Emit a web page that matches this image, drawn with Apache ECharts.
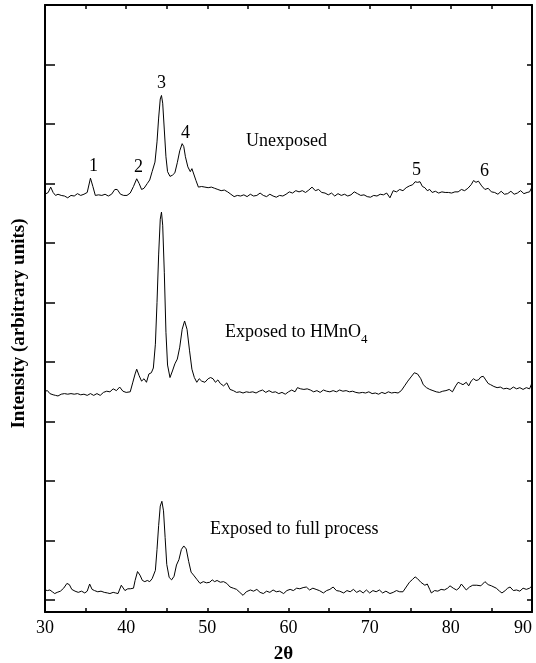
<!DOCTYPE html>
<html>
<head>
<meta charset="utf-8">
<script src="https://cdn.jsdelivr.net/npm/echarts@6/dist/echarts.min.js"></script>
<style>html,body{margin:0;padding:0;background:#fff}#c{width:536px;height:663px}</style>
</head>
<body>
<div id="c"></div>
<script>
// 2-theta positions and intensities (arbitrary units, offset per curve)
var unexposedX = [30.0,30.4,30.7,31.0,31.3,31.6,32.0,32.4,32.8,33.2,33.6,34.0,34.4,34.8,35.2,35.6,35.9,36.2,36.6,37.0,37.4,37.8,38.2,38.6,38.9,39.3,39.7,40.1,40.5,40.9,41.3,41.6,41.9,42.2,42.6,42.9,43.2,43.55,43.8,44.0,44.2,44.35,44.5,44.7,44.9,45.1,45.4,45.7,46.0,46.3,46.6,46.9,47.1,47.3,47.6,47.9,48.1,48.3,48.6,48.9,49.3,49.7,50.1,50.5,50.9,51.3,51.7,52.1,52.5,52.9,53.3,53.7,54.1,54.5,54.9,55.3,55.7,56.1,56.5,56.9,57.3,57.7,58.1,58.5,58.9,59.3,59.7,60.1,60.5,60.9,61.3,61.7,62.1,62.5,62.9,63.3,63.7,64.1,64.5,64.9,65.3,65.7,66.1,66.5,66.9,67.3,67.7,68.1,68.5,68.9,69.3,69.7,70.1,70.5,70.9,71.3,71.7,72.1,72.5,72.9,73.3,73.7,74.1,74.5,74.9,75.3,75.6,75.9,76.2,76.5,76.8,77.1,77.4,77.7,78.1,78.5,78.9,79.3,79.7,80.1,80.5,80.9,81.3,81.7,82.1,82.5,82.8,83.1,83.4,83.8,84.2,84.6,85.0,85.4,85.8,86.2,86.6,87.0,87.4,87.8,88.2,88.6,89.0,89.4,89.7,90.0];
var unexposedY = [6.82,6.85,6.94,6.85,6.80,6.82,6.80,6.79,6.76,6.80,6.79,6.83,6.80,6.82,6.85,7.09,6.95,6.80,6.81,6.80,6.82,6.79,6.82,6.90,6.90,6.82,6.80,6.80,6.84,6.95,7.08,7.00,6.90,6.92,7.00,7.06,7.20,7.36,7.70,8.10,8.42,8.48,8.35,7.90,7.45,7.20,7.12,7.14,7.18,7.35,7.55,7.67,7.62,7.45,7.28,7.20,7.25,7.22,7.05,6.94,6.95,6.94,6.93,6.94,6.92,6.90,6.88,6.89,6.86,6.82,6.78,6.80,6.79,6.81,6.78,6.82,6.79,6.80,6.84,6.80,6.78,6.82,6.79,6.77,6.80,6.79,6.82,6.86,6.84,6.88,6.86,6.88,6.85,6.89,6.94,6.88,6.90,6.85,6.84,6.81,6.84,6.79,6.83,6.80,6.82,6.79,6.81,6.86,6.83,6.80,6.81,6.78,6.77,6.80,6.79,6.82,6.81,6.84,6.76,6.88,6.86,6.90,6.88,6.93,6.96,6.98,7.03,7.02,7.03,6.95,6.93,6.88,6.90,6.85,6.87,6.84,6.86,6.85,6.85,6.84,6.86,6.86,6.90,6.88,6.92,6.98,7.05,7.02,7.04,6.96,6.90,6.92,6.86,6.85,6.82,6.87,6.82,6.83,6.87,6.82,6.84,6.88,6.83,6.85,6.86,6.94];

var hmno4X = [30.0,30.3,30.6,31.0,31.3,31.6,32.0,32.4,32.8,33.2,33.6,34.0,34.4,34.8,35.2,35.6,36.0,36.4,36.8,37.2,37.6,38.0,38.4,38.8,39.2,39.6,40.0,40.5,40.8,41.1,41.3,41.6,41.9,42.2,42.5,42.8,43.1,43.35,43.6,43.8,44.0,44.2,44.35,44.5,44.7,44.9,45.1,45.4,45.7,46.0,46.3,46.6,46.9,47.2,47.5,47.8,48.1,48.4,48.7,49.0,49.3,49.7,50.1,50.4,50.7,51.0,51.3,51.6,52.0,52.4,52.8,53.2,53.6,54.0,54.4,54.8,55.2,55.6,56.0,56.4,56.8,57.2,57.6,58.0,58.4,58.8,59.2,59.6,60.0,60.4,60.8,61.1,61.5,61.9,62.3,62.7,63.1,63.5,63.9,64.3,64.7,65.1,65.5,65.9,66.3,66.7,67.1,67.5,67.9,68.3,68.7,69.1,69.5,69.9,70.3,70.7,71.1,71.5,71.9,72.3,72.7,73.1,73.5,73.9,74.3,74.7,75.1,75.5,75.9,76.3,76.6,77.0,77.4,77.8,78.2,78.6,79.0,79.4,79.8,80.2,80.6,80.9,81.2,81.5,81.9,82.2,82.5,82.8,83.1,83.4,83.7,84.0,84.3,84.6,84.9,85.3,85.7,86.1,86.5,86.9,87.3,87.7,88.1,88.5,88.9,89.3,89.7,90.0];
var hmno4Y = [3.51,3.52,3.47,3.45,3.44,3.43,3.46,3.47,3.46,3.47,3.46,3.47,3.45,3.46,3.44,3.47,3.44,3.47,3.44,3.49,3.51,3.50,3.55,3.52,3.58,3.51,3.49,3.50,3.65,3.80,3.88,3.77,3.68,3.72,3.66,3.80,3.82,3.90,4.30,5.00,5.80,6.40,6.52,6.30,5.50,4.50,3.95,3.74,3.85,3.97,4.05,4.25,4.55,4.69,4.55,4.20,3.88,3.74,3.66,3.72,3.68,3.66,3.72,3.74,3.72,3.66,3.70,3.64,3.60,3.65,3.54,3.52,3.49,3.50,3.48,3.50,3.49,3.50,3.48,3.51,3.53,3.49,3.52,3.49,3.50,3.47,3.49,3.46,3.50,3.53,3.50,3.57,3.55,3.54,3.55,3.53,3.50,3.52,3.49,3.53,3.51,3.50,3.52,3.50,3.53,3.51,3.52,3.50,3.51,3.49,3.48,3.49,3.48,3.50,3.47,3.48,3.46,3.49,3.47,3.50,3.48,3.49,3.48,3.52,3.60,3.68,3.75,3.82,3.80,3.72,3.62,3.57,3.54,3.52,3.50,3.49,3.51,3.52,3.54,3.50,3.60,3.66,3.64,3.62,3.66,3.60,3.68,3.72,3.69,3.70,3.75,3.76,3.70,3.64,3.62,3.59,3.57,3.58,3.55,3.56,3.54,3.58,3.55,3.57,3.54,3.57,3.55,3.65];

var fullX = [30.0,30.3,30.6,30.9,31.2,31.5,31.9,32.3,32.7,33.0,33.3,33.7,34.1,34.5,34.9,35.2,35.5,35.8,36.1,36.5,36.9,37.3,37.7,38.0,38.4,38.7,39.0,39.4,39.85,40.2,40.5,40.9,41.1,41.4,41.7,42.0,42.3,42.6,42.9,43.2,43.35,43.6,43.8,44.0,44.2,44.4,44.6,44.8,45.0,45.3,45.6,45.9,46.2,46.5,46.8,47.1,47.4,47.7,48.0,48.3,48.7,49.1,49.5,49.9,50.3,50.6,50.9,51.2,51.6,52.0,52.4,52.8,53.2,53.6,54.0,54.4,54.8,55.3,55.7,56.1,56.5,56.9,57.3,57.7,58.1,58.5,58.9,59.4,59.8,60.2,60.6,61.0,61.4,61.8,62.2,62.6,63.0,63.4,63.8,64.3,64.7,65.1,65.5,65.9,66.3,66.8,67.2,67.6,68.0,68.4,68.8,69.2,69.6,70.0,70.4,70.8,71.2,71.6,72.0,72.5,72.9,73.3,73.7,74.1,74.5,74.9,75.3,75.6,75.9,76.3,76.8,77.1,77.4,77.6,78.0,78.4,78.8,79.2,79.6,79.9,80.3,80.7,81.0,81.3,81.6,81.9,82.3,82.7,83.2,83.7,84.2,84.6,85.0,85.2,85.6,86.0,86.3,86.7,87.0,87.3,87.7,88.1,88.5,88.9,89.3,89.7,90.0];
var fullY = [0.17,0.16,0.17,0.14,0.11,0.13,0.15,0.20,0.28,0.26,0.18,0.15,0.13,0.15,0.12,0.15,0.27,0.18,0.16,0.14,0.15,0.13,0.12,0.11,0.13,0.12,0.11,0.25,0.16,0.19,0.19,0.20,0.33,0.48,0.42,0.33,0.31,0.33,0.31,0.36,0.35,0.50,0.85,1.25,1.58,1.66,1.50,1.05,0.60,0.38,0.34,0.40,0.59,0.68,0.85,0.91,0.86,0.65,0.47,0.42,0.35,0.28,0.31,0.29,0.30,0.34,0.31,0.33,0.30,0.31,0.28,0.22,0.20,0.18,0.13,0.08,0.14,0.17,0.15,0.18,0.13,0.11,0.15,0.13,0.17,0.14,0.15,0.11,0.16,0.18,0.16,0.20,0.19,0.21,0.22,0.17,0.20,0.18,0.16,0.12,0.16,0.18,0.22,0.16,0.15,0.12,0.16,0.14,0.18,0.13,0.16,0.12,0.17,0.12,0.16,0.14,0.17,0.12,0.15,0.11,0.13,0.16,0.14,0.14,0.22,0.30,0.35,0.39,0.36,0.30,0.25,0.27,0.18,0.12,0.16,0.15,0.18,0.17,0.20,0.24,0.20,0.17,0.20,0.27,0.22,0.17,0.22,0.25,0.25,0.24,0.31,0.26,0.24,0.22,0.20,0.15,0.12,0.16,0.20,0.22,0.16,0.17,0.15,0.20,0.18,0.20,0.24];

var yTickValues = [0,1,2,3,4,5,6,7,8,9,10];

function pairs(xs, ys) { return xs.map(function (x, i) { return [x, ys[i]]; }); }

var FONT = "'Liberation Serif','Times New Roman',serif";
var chart = echarts.init(document.getElementById('c'), null, { renderer: 'canvas' });

function lineSeries(name, xs, ys) {
  return {
    name: name, type: 'line', data: pairs(xs, ys), showSymbol: false, symbol: 'none',
    lineStyle: { color: '#000', width: 1 }, animation: false, silent: true
  };
}

function txt(x, y, s, size) {
  return { type: 'text', left: x, top: y, silent: true,
    style: { text: s, fill: '#000', font: (size || 18) + 'px ' + FONT } };
}

// measure width of main text so subscript sits right after it
var mctx = document.createElement('canvas').getContext('2d');
mctx.font = '18px ' + FONT;
var hmnoW = mctx.measureText('Exposed to HMnO').width;

chart.setOption({
  animation: false,
  backgroundColor: '#fff',
  grid: { left: 45, right: 4, top: 5, bottom: 51, containLabel: false, outerBoundsMode: 'none' },
  xAxis: [{
    type: 'value', position: 'bottom', min: 30, max: 90, interval: 10,
    name: '2θ', nameLocation: 'middle', nameGap: 33,
    nameTextStyle: { fontFamily: FONT, fontSize: 19, fontWeight: 'bold', color: '#000', padding: [0, 10, 0, 0] },
    axisLine: { show: true, onZero: false, lineStyle: { color: '#000', width: 2 } },
    axisTick: { show: true, inside: true, length: 4, lineStyle: { color: '#000', width: 1.5 } },
    minorTick: { show: true, splitNumber: 2, length: 4, lineStyle: { color: '#000', width: 1.5 } },
    axisLabel: { show: true, margin: 7, fontFamily: FONT, fontSize: 18, color: '#000', alignMaxLabel: 'right' },
    splitLine: { show: false }
  }, {
    type: 'value', position: 'top', min: 30, max: 90, interval: 5,
    axisLine: { show: true, onZero: false, lineStyle: { color: '#000', width: 2 } },
    axisTick: { show: true, inside: true, length: 4, lineStyle: { color: '#000', width: 1.5 } },
    axisLabel: { show: false }, splitLine: { show: false }
  }],
  yAxis: [{
    type: 'value', position: 'left', min: -0.2, max: 10,
    name: 'Intensity (arbitrary units)', nameLocation: 'middle', nameGap: 16, nameRotate: 90,
    nameTextStyle: { fontFamily: FONT, fontSize: 19, fontWeight: 'bold', color: '#000', padding: [0, 30, 0, 0] },
    axisLine: { show: true, onZero: false, lineStyle: { color: '#000', width: 2 } },
    axisTick: { show: true, inside: true, length: 10, customValues: yTickValues, lineStyle: { color: '#000', width: 1.5 } },
    axisLabel: { show: false, customValues: yTickValues }, splitLine: { show: false }
  }, {
    type: 'value', position: 'right', min: -0.2, max: 10,
    axisLine: { show: true, onZero: false, lineStyle: { color: '#000', width: 2 } },
    axisTick: { show: true, inside: true, length: 5, customValues: yTickValues, lineStyle: { color: '#000', width: 1.5 } },
    axisLabel: { show: false, customValues: yTickValues }, splitLine: { show: false }
  }],
  series: [
    lineSeries('Unexposed', unexposedX, unexposedY),
    lineSeries('Exposed to HMnO4', hmno4X, hmno4Y),
    lineSeries('Exposed to full process', fullX, fullY)
  ],
  graphic: [
    txt(246, 132, 'Unexposed'),
    txt(225, 323, 'Exposed to HMnO'),
    txt(225 + hmnoW, 333, '4', 13),
    txt(210, 520, 'Exposed to full process'),
    txt(89, 157, '1'),
    txt(134, 158, '2'),
    txt(157, 74, '3'),
    txt(181, 124, '4'),
    txt(412, 161, '5'),
    txt(480, 162, '6')
  ]
});
</script>
</body>
</html>
